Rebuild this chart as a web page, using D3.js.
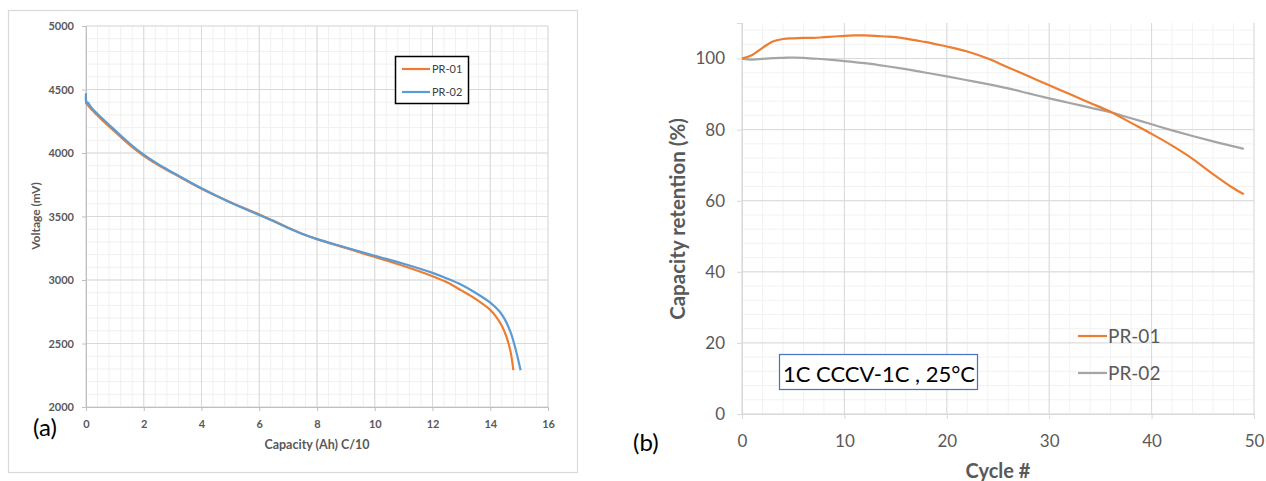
<!DOCTYPE html>
<html><head><meta charset="utf-8">
<script src="https://cdn.jsdelivr.net/npm/d3@7"></script>
<style>body{margin:0;background:#fff}svg{display:block}text{font-family:Lato,"Open Sans",sans-serif}</style>
</head><body><svg id="c" width="1266" height="481"></svg>
<script>
// ---- Panel (a): discharge curves ----
const capTicks = [0,2,4,6,8,10,12,14,16];
const voltTicks = [2000,2500,3000,3500,4000,4500,5000];
const pr01Cap = [0,0.01,0.05,0.2,0.5,1,1.5,2,2.5,3,4,5,6,6.5,7,7.5,8,9,10,11,12,12.5,13,13.5,14,14.2,14.4,14.55,14.7,14.8];
const pr01Volt = [4440,4400,4380,4340,4273,4168,4066,3978,3905,3842,3718,3612,3516,3466,3412,3362,3322,3252,3181,3110,3030,2982,2918,2850,2765,2712,2640,2560,2440,2290];
const pr02Cap = [0,0.01,0.05,0.2,0.5,1,1.5,2,2.5,3,4,5,6,6.5,7,7.5,8,9,10,11,12,12.5,13,13.5,14,14.3,14.5,14.7,14.85,15.0,15.05];
const pr02Volt = [4470,4390,4399,4354,4285,4180,4077,3987,3912,3847,3722,3610,3512,3462,3410,3362,3322,3256,3191,3128,3056,3012,2962,2898,2822,2758,2692,2592,2480,2340,2290];
const legendA = ["PR-01","PR-02"];

// ---- Panel (b): cycle life ----
const cycleTicks = [0,10,20,30,40,50];
const retTicks = [0,20,40,60,80,100];
const cycR1 = [0,1,2,3,4,5,6,7,8,9,10,11,12,13,14,15,16,17,18,19,20,22,24,26,28,30,32,34,36,38,40,42,44,46,48,49];
const retR1 = [100,101,103,104.8,105.5,105.7,105.8,105.8,106,106.2,106.4,106.5,106.5,106.4,106.2,106,105.6,105.1,104.6,104,103.4,102,100,97.5,95,92.5,90,87.5,85,81.9,78.8,75.5,71.8,67.5,63.5,61.8];
const cycR2 = [0,1,2,3,4,5,6,7,8,10,12,14,16,18,20,22,24,26,28,30,32,34,36,38,40,42,44,46,48,49];
const retR2 = [100,99.7,99.9,100.1,100.2,100.3,100.2,100,99.8,99.3,98.7,97.9,97,96,95,93.9,92.8,91.6,90.2,88.8,87.5,86.2,84.9,83.2,81.5,79.8,78.2,76.7,75.3,74.6];
const legendB = ["PR-01","PR-02"];
const noteB = "1C CCCV-1C , 25°C";

const svg = d3.select("#c");
const ORANGE = "#ED7D31", BLUE = "#5B9BD5", GRAY = "#A5A5A5", TXT = "#595959";

// ================= Panel (a) =================
svg.append("rect").attr("x",8.5).attr("y",10.5).attr("width",569).attr("height",462)
  .attr("fill","#fff").attr("stroke","#d9d9d9").attr("stroke-width",1.2);
const xA = d3.scaleLinear().domain([0,16]).range([86,548]);
const yA = d3.scaleLinear().domain([2000,5000]).range([407,26]);
const gA = svg.append("g");
gA.selectAll(".mx").data(d3.range(0,16.001,0.4)).join("line")
  .attr("x1",d=>xA(d)).attr("x2",d=>xA(d)).attr("y1",yA(2000)).attr("y2",yA(5000))
  .attr("stroke","#f0f0f0").attr("stroke-width",1);
gA.selectAll(".my").data(d3.range(2000,5001,100)).join("line")
  .attr("y1",d=>yA(d)).attr("y2",d=>yA(d)).attr("x1",xA(0)).attr("x2",xA(16))
  .attr("stroke","#f0f0f0").attr("stroke-width",1);
gA.selectAll(".Mx").data(capTicks).join("line")
  .attr("x1",d=>xA(d)).attr("x2",d=>xA(d)).attr("y1",yA(2000)).attr("y2",yA(5000))
  .attr("stroke","#d9d9d9").attr("stroke-width",1);
gA.selectAll(".My").data(voltTicks).join("line")
  .attr("y1",d=>yA(d)).attr("y2",d=>yA(d)).attr("x1",xA(0)).attr("x2",xA(16))
  .attr("stroke","#d9d9d9").attr("stroke-width",1);
const axA_x = gA.append("g").attr("transform",`translate(0,${yA(2000)})`)
  .call(d3.axisBottom(xA).tickValues(capTicks).tickSize(4).tickPadding(9).tickFormat(d3.format("d")));
const axA_y = gA.append("g").attr("transform",`translate(${xA(0)},0)`)
  .call(d3.axisLeft(yA).tickValues(voltTicks).tickSize(4).tickPadding(8).tickFormat(d3.format("d")));
[axA_x,axA_y].forEach(a=>{
  a.selectAll("path,line").attr("stroke","#bfbfbf");
  a.selectAll("text").attr("fill",TXT).attr("font-size",11).attr("font-weight","bold")
   .attr("font-family","Lato, sans-serif");
});
const lineA = d3.line().x(d=>xA(d[0])).y(d=>yA(d[1])).curve(d3.curveCatmullRom.alpha(0.5));
gA.append("path").datum(pr01Cap.map((c,i)=>[c,pr01Volt[i]])).attr("d",lineA)
  .attr("fill","none").attr("stroke",ORANGE).attr("stroke-width",2.2);
gA.append("path").datum(pr02Cap.map((c,i)=>[c,pr02Volt[i]])).attr("d",lineA)
  .attr("fill","none").attr("stroke",BLUE).attr("stroke-width",2.2);
svg.append("text").attr("transform","translate(40,216) rotate(-90)").attr("text-anchor","middle")
  .attr("font-size",12).attr("font-weight","bold").attr("fill",TXT).text("Voltage (mV)");
svg.append("text").attr("x",317).attr("y",449).attr("text-anchor","middle")
  .attr("font-size",12.5).attr("font-weight","bold").attr("fill",TXT).text("Capacity (Ah) C/10");
svg.append("text").attr("x",33).attr("y",436).attr("font-size",24).attr("fill","#000").text("(a)");
const lgA = svg.append("g");
lgA.append("rect").attr("x",395.5).attr("y",56.5).attr("width",73).attr("height",47)
  .attr("fill","#fff").attr("stroke","#000").attr("stroke-width",1.5);
const colsA=[ORANGE,BLUE];
legendA.forEach((t,i)=>{
  const yy = 69 + i*23;
  lgA.append("line").attr("x1",402).attr("x2",430).attr("y1",yy).attr("y2",yy)
    .attr("stroke",colsA[i]).attr("stroke-width",2.2);
  lgA.append("text").attr("x",432).attr("y",yy+4).attr("font-size",11).attr("fill","#404040").text(t);
});

// ================= Panel (b) =================
const xB = d3.scaleLinear().domain([0,50]).range([742,1254]);
const yB = d3.scaleLinear().domain([0,110]).range([414,23]);
const gB = svg.append("g");
gB.selectAll(".mx").data(d3.range(0,50.001,2)).join("line")
  .attr("x1",d=>xB(d)).attr("x2",d=>xB(d)).attr("y1",yB(0)).attr("y2",yB(110))
  .attr("stroke","#f2f2f2").attr("stroke-width",1);
gB.selectAll(".my").data(d3.range(0,109,4)).join("line")
  .attr("y1",d=>yB(d)).attr("y2",d=>yB(d)).attr("x1",xB(0)).attr("x2",xB(50))
  .attr("stroke","#f2f2f2").attr("stroke-width",1);
gB.selectAll(".Mx").data(cycleTicks).join("line")
  .attr("x1",d=>xB(d)).attr("x2",d=>xB(d)).attr("y1",yB(0)).attr("y2",yB(110))
  .attr("stroke","#d9d9d9").attr("stroke-width",1);
gB.selectAll(".My").data(retTicks).join("line")
  .attr("y1",d=>yB(d)).attr("y2",d=>yB(d)).attr("x1",xB(0)).attr("x2",xB(50))
  .attr("stroke","#d9d9d9").attr("stroke-width",1);
const axB_x = gB.append("g").attr("transform",`translate(0,${yB(0)})`)
  .call(d3.axisBottom(xB).tickValues(cycleTicks).tickSize(5).tickPadding(16));
const axB_y = gB.append("g").attr("transform",`translate(${xB(0)},0)`)
  .call(d3.axisLeft(yB).tickValues(retTicks).tickSize(5).tickPadding(12));
[axB_x,axB_y].forEach(a=>{
  a.select(".domain").attr("stroke","#d9d9d9");
  a.selectAll(".tick line").attr("stroke","#d9d9d9");
  a.selectAll("text").attr("fill",TXT).attr("font-size",17).attr("font-family","Lato, sans-serif");
});
const lineB = d3.line().x(d=>xB(d[0])).y(d=>yB(d[1])).curve(d3.curveCatmullRom.alpha(0.5));
gB.append("path").datum(cycR2.map((c,i)=>[c,retR2[i]])).attr("d",lineB)
  .attr("fill","none").attr("stroke",GRAY).attr("stroke-width",2.2);
gB.append("path").datum(cycR1.map((c,i)=>[c,retR1[i]])).attr("d",lineB)
  .attr("fill","none").attr("stroke",ORANGE).attr("stroke-width",2.2);
svg.append("text").attr("transform","translate(685,219) rotate(-90)").attr("text-anchor","middle")
  .attr("font-size",20.5).attr("font-weight","bold").attr("fill",TXT).text("Capacity retention (%)");
svg.append("text").attr("x",998).attr("y",478).attr("text-anchor","middle")
  .attr("font-size",20).attr("font-weight","bold").attr("fill",TXT).text("Cycle #");
svg.append("text").attr("x",633).attr("y",451).attr("font-size",24).attr("fill","#000").text("(b)");
svg.append("rect").attr("x",779.5).attr("y",354.5).attr("width",198).attr("height",35)
  .attr("fill","#fff").attr("stroke","#4472C4").attr("stroke-width",1.2);
svg.append("text").attr("x",879).attr("y",382).attr("text-anchor","middle")
  .attr("font-size",22).attr("fill","#000").text(noteB);
const colsB=[ORANGE,GRAY];
legendB.forEach((t,i)=>{
  const yy = 336 + i*37;
  svg.append("line").attr("x1",1078).attr("x2",1107).attr("y1",yy).attr("y2",yy)
    .attr("stroke",colsB[i]).attr("stroke-width",2.2);
  svg.append("text").attr("x",1108).attr("y",yy+7).attr("font-size",19).attr("fill",TXT).text(t);
});
</script></body></html>
